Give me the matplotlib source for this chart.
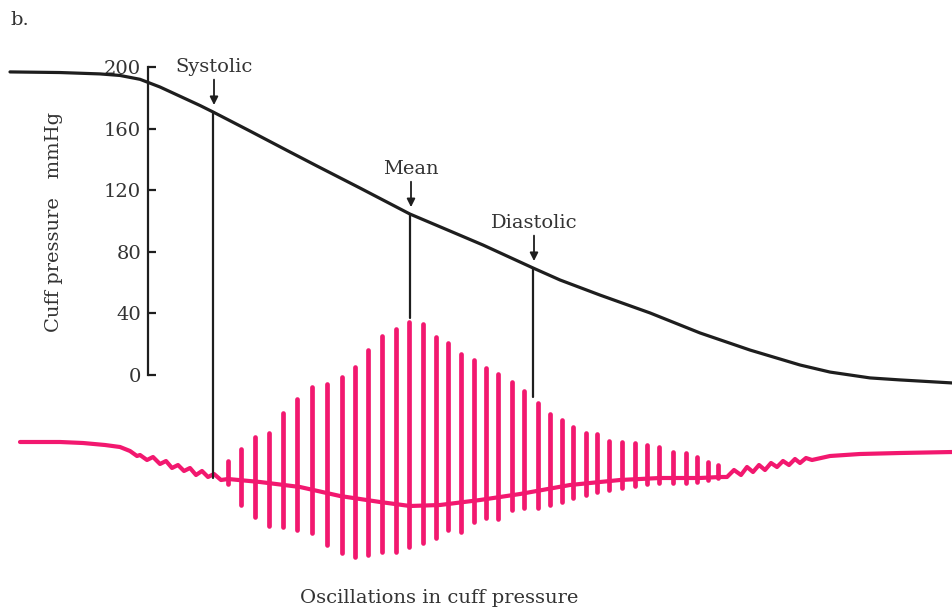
import matplotlib

matplotlib.use("Agg")
import matplotlib.pyplot as plt
from matplotlib.patches import ConnectionPatch

plt.rcParams["font.family"] = ["DejaVu Serif"]

# cuff pressure trace (time = position along the recording, arbitrary units)
cuff_t = [10, 60, 100, 120, 140, 160, 180, 200, 213, 250, 290, 317, 360, 410,
          450, 483, 533, 560, 600, 650, 700, 750, 800, 830, 870, 900, 953]
cuff_mmhg = [196.8, 196.4, 195.5, 194.5, 192.0, 187.0, 181.0, 175.0, 170.8,
             158.4, 144.8, 135.7, 121.4, 104.5, 93.5, 84.4, 69.5, 61.7, 51.9,
             40.3, 27.3, 16.2, 6.5, 1.9, -1.9, -3.2, -5.2]

# oscillation trace: slow baseline incl. small ripples (arbitrary units)
osc_t = [20, 60, 83, 105, 120, 130, 137, 140, 147, 153, 160, 166, 172, 178,
         184, 190, 196, 202, 208, 214, 221, 228, 260, 300, 340, 380, 410,
         440, 480, 520, 570, 620, 660, 700, 720, 727, 734, 741, 747, 753,
         759, 765, 771, 777, 783, 789, 795, 800, 806, 812, 830, 860, 900, 953]
osc_v = [0, 0, -1, -3, -5, -9, -14, -13, -18, -15, -22, -19, -26, -23,
         -29, -26, -33, -29, -35, -32, -38, -37, -40, -45, -54, -60, -64,
         -63, -58, -52, -43, -38, -36, -36, -35, -35, -28, -33, -25, -30,
         -23, -28, -21, -25, -19, -23, -17, -21, -16, -18, -14, -12, -11, -10]

# individual pulses: upper and lower tips
pulse_t = [228, 241, 255, 269, 283, 297, 312, 327, 342, 355, 368, 382, 396,
           409, 423, 436, 448, 461, 474, 486, 498, 512, 524, 538, 550, 562,
           573, 586, 597, 609, 622, 635, 647, 659, 673, 686, 697, 708, 718]
pulse_top = [-19, -7, 5, 9, 29, 43, 55, 58, 65, 75, 92, 106, 113,
             120, 118, 105, 99, 88, 82, 74, 68, 60, 51, 39, 28, 22,
             15, 9, 8, 1, 0, -1, -3, -5, -10, -11, -15, -20, -23]
pulse_bottom = [-42, -63, -75, -84, -85, -88, -91, -103, -111, -115, -113,
                -110, -110, -105, -101, -96, -88, -90, -80, -76, -77, -68,
                -66, -66, -63, -60, -56, -53, -50, -48, -46, -44, -42, -41,
                -41, -41, -40, -38, -36]

marker_names = ["Systolic", "Mean", "Diastolic"]
marker_t = [213, 410, 533]
marker_mmhg = [170.8, 104.5, 69.5]
marker_osc_end = [-36, 124, 45]

yticks = [0, 40, 80, 120, 160, 200]

INK = "#1e1e1e"
TEXT = "#333333"
PINK = "#f2186f"

fig = plt.figure(figsize=(9.53, 6.10), dpi=100)
ax = fig.add_axes([0, 0, 1, 1])
ax.set_xlim(0, 953)
ax.set_ylim(-152.6, 243.5)

ax_osc = fig.add_axes([0, 0, 1, 1], sharex=ax)
ax_osc.set_ylim(-168, 442)
ax_osc.axis("off")
ax_osc.patch.set_visible(False)

# pressure curve
ax.plot(cuff_t, cuff_mmhg, color=INK, lw=2.3, solid_capstyle="round",
        solid_joinstyle="round")

# y axis drawn as a free-standing scale
for side in ("top", "right", "bottom"):
    ax.spines[side].set_visible(False)
ax.spines["left"].set_position(("data", 148))
ax.spines["left"].set_bounds(0, 200)
ax.spines["left"].set_linewidth(1.6)
ax.spines["left"].set_color(INK)
ax.set_xticks([])
ax.set_yticks(yticks)
ax.tick_params(axis="y", direction="in", length=6, width=1.6, color=INK,
               labelsize=14, labelcolor=TEXT, pad=5)

# oscillations
ax_osc.plot(osc_t, osc_v, color=PINK, lw=3.0, solid_capstyle="round",
            solid_joinstyle="round")
vl = ax_osc.vlines(pulse_t, pulse_bottom, pulse_top, color=PINK, lw=3.4)
vl.set_capstyle("round")

# markers: arrow + label above curve, drop line down to the oscillations
for name, t, p, e in zip(marker_names, marker_t, marker_mmhg, marker_osc_end):
    ax.annotate("", xy=(t + 1, p + 4.5), xytext=(t + 1, p + 21),
                arrowprops=dict(arrowstyle="-|>", lw=1.3, color=INK,
                                mutation_scale=12, shrinkA=0, shrinkB=0))
    ax.text(t + 1, p + 26, name, ha="center", va="baseline", fontsize=14,
            color=TEXT)
    con = ConnectionPatch(xyA=(t, p), coordsA=ax.transData,
                          xyB=(t, e), coordsB=ax_osc.transData,
                          color=INK, lw=1.6)
    fig.add_artist(con)

fig.text(54 / 953, 1 - 222 / 610, "Cuff pressure   mmHg", rotation=90,
         ha="center", va="center", fontsize=14, color=TEXT)
fig.text(439 / 953, 1 - 598 / 610, "Oscillations in cuff pressure",
         ha="center", va="center", fontsize=14, color=TEXT)
fig.text(10 / 953, 1 - 20 / 610, "b.", ha="left", va="center", fontsize=14,
         color=TEXT)

fig.savefig("out.png", dpi=100)
